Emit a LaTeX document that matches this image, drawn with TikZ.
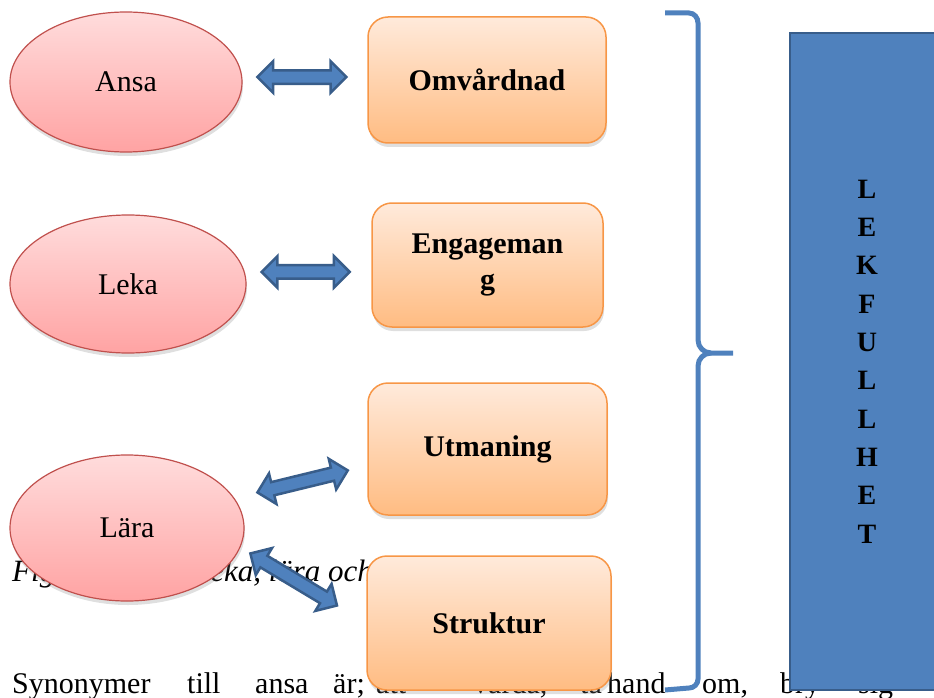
\documentclass[tikz,border=0pt]{standalone}
\usepackage{fontspec}
\setmainfont{Liberation Serif}
\usetikzlibrary{shapes.geometric,shapes.arrows,shadows}

\definecolor{ovalline}{HTML}{C0504D}
\definecolor{ovaltop}{HTML}{FFDCDC}
\definecolor{ovalbot}{HTML}{FFA3A3}
\definecolor{boxline}{HTML}{F79646}
\definecolor{boxtop}{HTML}{FFEADB}
\definecolor{boxbot}{HTML}{FFBC82}
\definecolor{accent}{HTML}{4F81BD}
\definecolor{accentdark}{HTML}{385D8A}

\begin{document}
\begin{tikzpicture}[
    x=1pt, y=-1pt,
    shade/.style={drop shadow={opacity=0.25, shadow xshift=1pt, shadow yshift=-4pt}},
    oval/.style={ellipse, draw=ovalline, line width=1.2pt, top color=ovaltop, bottom color=ovalbot, shade, minimum width=232pt, minimum height=140pt, inner sep=0pt, font=\fontsize{30}{36}\selectfont},
    box/.style={draw=boxline, line width=1.5pt, rounded corners=20pt, top color=boxtop, bottom color=boxbot, shade, align=center, minimum width=238pt, minimum height=126pt, inner sep=0pt, font=\fontsize{30}{36}\selectfont\bfseries},
    dblarr/.style={double arrow, draw=accentdark, fill=accent, line width=2.5pt, minimum width=31pt, double arrow head extend=9pt, inner xsep=0pt, inner ysep=5.5pt},
    band/.style={draw=accentdark, line width=2.5pt, fill=accent, minimum width=154pt, minimum height=657pt, align=center, inner sep=0pt, font=\fontsize{28}{38.3}\selectfont\bfseries},
    brace/.style={draw=accent, line width=5pt},
    body/.style={anchor=base west, inner sep=0pt, font=\fontsize{30}{36}\selectfont}
  ]
  \path[use as bounding box] (0,0) rectangle (934,698);
  \clip (0,0) rectangle (934,698);

  % page text behind the figure
  \node[body, font=\fontsize{31}{36}\selectfont\itshape] (cap) at (12,581) {Figur 1. Ansa, leka, lära och};
  \foreach \w/\x in {Synonymer/12, till/187, ansa/255, är;/333, att/376, {vårda,}/473, ta/580, hand/607, {om,}/702, bry/780, sig/858}
    \node[body] (word\x) at (\x,693) {\w};

  % left column
  \node[oval] (ansa) at (126,82) {Ansa};
  \node[oval, minimum width=236pt, minimum height=138pt] (leka) at (128,284) {Leka};
  \node[oval, minimum width=234pt, minimum height=146pt] (lara) at (127,528) {Lära};

  % middle column
  \node[box] (omv) at (487,80) {Omvårdnad};
  \node[box, minimum width=231pt, minimum height=124pt] (eng) at (487.5,265) {Engageman\\g};
  \node[box, minimum width=239pt, minimum height=132pt] (utm) at (487.5,449) {Utmaning};
  \node[box, minimum width=244pt, minimum height=134pt] (str) at (489,623) {Struktur};

  % block arrows
  \path (ansa) -- (omv) node[dblarr, midway, minimum height=89pt, xshift=-3pt, yshift=4pt] (a1) {};
  \path (leka) -- (eng) node[dblarr, midway, minimum height=88pt, xshift=-3pt, yshift=2.5pt] (a2) {};
  \path (lara) -- (utm) node[dblarr, midway, minimum height=93pt, yshift=8pt, rotate=13.7] (a3) {};
  \path (lara.-15) -- (str.west) node[dblarr, midway, minimum height=101pt, xshift=-7pt, yshift=10.5pt, rotate=-31] (a4) {};

  % brace
  \draw[brace] (665,13) -- (689,13) to[out=0,in=90] (698,23) -- (698,340)
    to[out=-90,in=180] (711,353) -- (733,353);
  \draw[brace] (711,353) to[out=180,in=90] (698,366) -- (698,679)
    to[out=-90,in=0] (689,688) -- (665,690);

  % right band
  \node[band] (lek) at (867,361.5) {L\\E\\K\\F\\U\\L\\L\\H\\E\\T};
\end{tikzpicture}
\end{document}
